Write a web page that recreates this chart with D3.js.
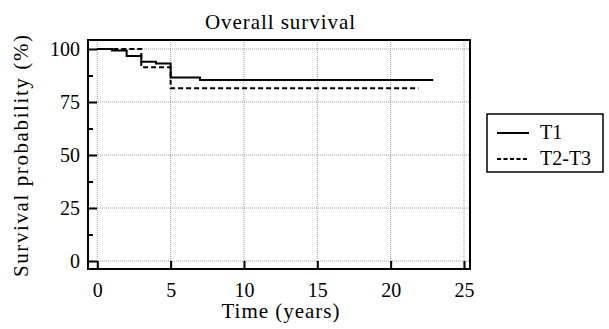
<!DOCTYPE html>
<html>
<head>
<meta charset="utf-8">
<script src="https://cdn.jsdelivr.net/npm/d3@7"></script>
<style>
  body { margin: 0; background: #fff; }
</style>
</head>
<body>
<svg width="609" height="329"></svg>
<script>
// values
var t1Times = [0, 1, 2, 3, 4, 5, 7, 22.9];
var t1Surv = [100, 99.3, 96.7, 94, 93.2, 86.6, 85.4, 85.4];
var t23Times = [0, 3, 5, 21.9];
var t23Surv = [100, 91.4, 81.5, 81.5];
var xTicks = [0, 5, 10, 15, 20, 25];
var yTicks = [0, 25, 50, 75, 100];
var yMinor = [12.5, 37.5, 62.5, 87.5];
var seriesNames = ["T1", "T2-T3"];

var svg = d3.select("svg");
var serif = "'Liberation Serif'";

var box = {left: 88, right: 470, top: 40, bottom: 269};

var x = d3.scaleLinear().domain([-0.634, 25.41]).range([box.left, box.right]);
var y = d3.scaleLinear().domain([-3.77, 104.25]).range([box.bottom, box.top]);

// grid
var grid = svg.append("g")
	.attr("stroke", "#888")
	.attr("stroke-width", 0.8)
	.attr("stroke-dasharray", "1,1");

grid.selectAll(".gx").data(xTicks).enter().append("line")
	.attr("x1", function(d) { return x(d); })
	.attr("x2", function(d) { return x(d); })
	.attr("y1", box.top)
	.attr("y2", box.bottom);

grid.selectAll(".gy").data(yTicks).enter().append("line")
	.attr("y1", function(d) { return y(d); })
	.attr("y2", function(d) { return y(d); })
	.attr("x1", box.left)
	.attr("x2", box.right);

// curves
var line = d3.line()
	.x(function(d) { return x(d[0]); })
	.y(function(d) { return y(d[1]); })
	.curve(d3.curveStepAfter);

svg.append("path")
	.datum(d3.zip(t1Times, t1Surv))
	.attr("d", line)
	.attr("fill", "none")
	.attr("stroke", "#000")
	.attr("stroke-width", 2);

svg.append("path")
	.datum(d3.zip(t23Times, t23Surv))
	.attr("d", line)
	.attr("fill", "none")
	.attr("stroke", "#000")
	.attr("stroke-width", 2)
	.attr("stroke-dasharray", "5,3");

// frame
svg.append("rect")
	.attr("x", box.left)
	.attr("y", box.top)
	.attr("width", box.right - box.left)
	.attr("height", box.bottom - box.top)
	.attr("fill", "none")
	.attr("stroke", "#000")
	.attr("stroke-width", 2);

// axes, ticks pointing inward
var xAxis = svg.append("g")
	.attr("transform", "translate(0," + box.bottom + ")")
	.call(d3.axisBottom(x).tickValues(xTicks).tickSizeInner(-8).tickSizeOuter(0).tickPadding(14));

var yAxis = svg.append("g")
	.attr("transform", "translate(" + box.left + ",0)")
	.call(d3.axisLeft(y).tickValues(yTicks).tickSizeInner(-9).tickSizeOuter(0).tickPadding(8));

svg.append("g")
	.attr("transform", "translate(" + box.left + ",0)")
	.call(d3.axisLeft(y).tickValues(yMinor).tickSizeInner(-5).tickSizeOuter(0).tickFormat(""))
	.select(".domain").remove();

[xAxis, yAxis].forEach(function(a) {
	a.select(".domain").remove();
	a.selectAll(".tick text")
		.style("font-family", serif)
		.attr("font-size", 20)
		.attr("fill", "#000");
});
svg.selectAll(".tick line").attr("stroke", "#000").attr("stroke-width", 2);
yAxis.selectAll(".tick text").attr("dy", "0.34em");

// titles, stretched to the width they take in the picture
function label(sel, len) {
	return sel.style("font-family", serif)
		.attr("font-size", 21)
		.attr("textLength", len)
		.attr("lengthAdjust", "spacing")
		.attr("text-anchor", "middle");
}

label(svg.append("text"), 150)
	.attr("x", 280)
	.attr("y", 29)
	.text("Overall survival");

label(svg.append("text"), 118)
	.attr("x", 280.5)
	.attr("y", 318)
	.text("Time (years)");

label(svg.append("text"), 242)
	.attr("transform", "translate(28,156) rotate(-90)")
	.text("Survival probability (%)");

// legend
var legend = svg.append("g");
legend.append("rect")
	.attr("x", 487)
	.attr("y", 114)
	.attr("width", 116)
	.attr("height", 58)
	.attr("fill", "#fff")
	.attr("stroke", "#000")
	.attr("stroke-width", 1.5);

var items = legend.selectAll(".item")
	.data(seriesNames)
	.enter().append("g")
	.attr("transform", function(d, i) { return "translate(0," + (133 + i * 26) + ")"; });

items.append("line")
	.attr("x1", 497)
	.attr("x2", 529)
	.attr("stroke", "#000")
	.attr("stroke-width", 2)
	.attr("stroke-dasharray", function(d, i) { return i ? "4,2.5" : null; });

items.append("text")
	.attr("x", 540)
	.attr("y", 6)
	.style("font-family", serif)
	.attr("font-size", 20)
	.text(function(d) { return d; });
</script>
</body>
</html>
